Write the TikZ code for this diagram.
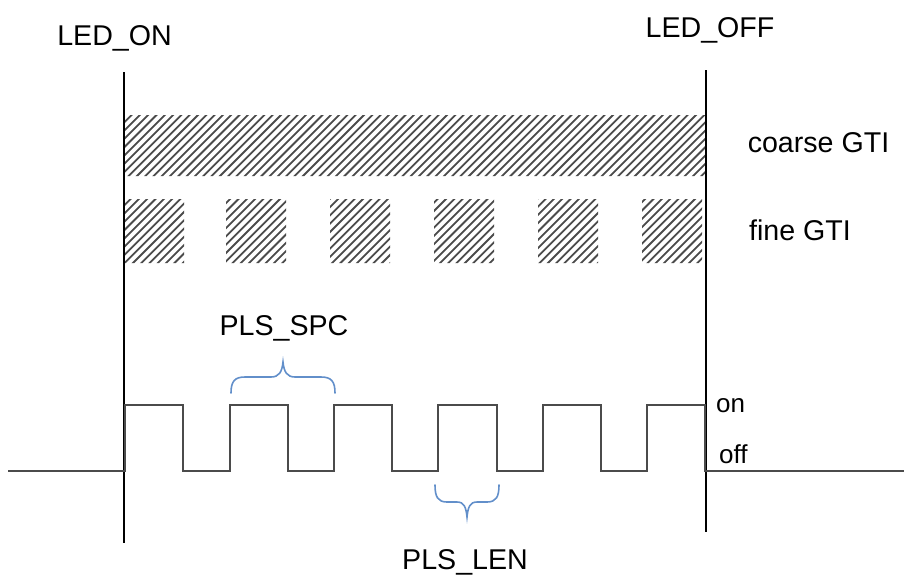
\documentclass[tikz,border=0pt]{standalone}
\usepackage{fontspec}
\setmainfont{Liberation Sans}
\definecolor{bracecol}{RGB}{98,143,202}
\definecolor{hatchcol}{RGB}{75,75,75}
\definecolor{wavecol}{RGB}{75,75,75}
\tikzset{
  lbl/.style={inner sep=0pt, anchor=base, font=\fontsize{28.6}{34}\selectfont},
  smalllbl/.style={inner sep=0pt, anchor=base west, font=\fontsize{26}{31}\selectfont},
  marker/.style={line width=1.3pt, black},
  wave/.style={line width=1.8pt, wavecol, line join=miter},
  hatchline/.style={line width=1.8pt, hatchcol},
  bracepath/.style={line width=1.6pt, bracecol, line cap=round}
}
\begin{document}
\begin{tikzpicture}[x=1pt,y=-1pt]
\useasboundingbox (0,0) rectangle (904,574);
% hatched GTI areas
\begin{scope}
  \clip (124,115) rectangle (705,176)
        (124,199) rectangle (184,263)
        (226,199) rectangle (286,263)
        (330,199) rectangle (390,263)
        (434,199) rectangle (494,263)
        (538,199) rectangle (598,263)
        (642,199) rectangle (702,263);
  \foreach \c in {230,238.3,...,990}
    \draw[hatchline] (\c-300,300) -- (\c-50,50);
\end{scope}
% markers
\coordinate (onTop) at (124,72);
\coordinate (onBot) at (124,543);
\coordinate (offTop) at (706,70);
\coordinate (offBot) at (706,532);
\draw[marker] (onTop) -- (onBot);
\draw[marker] (offTop) -- (offBot);
% waveform
\draw[wave] (8,471) -- (125,471) -- (125,405) -- (183,405) -- (183,471)
  -- (230,471) -- (230,405) -- (288,405) -- (288,471)
  -- (334,471) -- (334,405) -- (392,405) -- (392,471)
  -- (438,471) -- (438,405) -- (497,405) -- (497,471)
  -- (543,471) -- (543,405) -- (601,405) -- (601,471)
  -- (647,471) -- (647,405) -- (705,405) -- (705,471) -- (904,471);
% braces
\draw[bracepath] (231,393) .. controls (231,381) and (235,377) .. (245,377)
  -- (271,377) .. controls (279,377) and (282,372) .. (283,362)
  .. controls (284,372) and (287,377) .. (295,377)
  -- (321,377) .. controls (331,377) and (335,381) .. (335,393);
\draw[bracepath] (435,485) .. controls (435,497) and (438,502) .. (447,502)
  -- (457,502) .. controls (464,502) and (466,507) .. (467,517)
  .. controls (468,507) and (470,502) .. (477,502)
  -- (487,502) .. controls (496,502) and (499,497) .. (499,485);
% labels
\node[lbl] (ledon) at (114.5,45) {LED\_ON};
\node[lbl] (ledoff) at (710,37) {LED\_OFF};
\node[lbl] (coarse) at (818.5,152) {coarse GTI};
\node[lbl] (fine) at (800,240) {fine GTI};
\node[lbl] (spc) at (284,335) {PLS\_SPC};
\node[lbl] (len) at (465,569) {PLS\_LEN};
\node[smalllbl] (on) at (716,412) {on};
\node[smalllbl] (off) at (719,463) {off};
\end{tikzpicture}
\end{document}
